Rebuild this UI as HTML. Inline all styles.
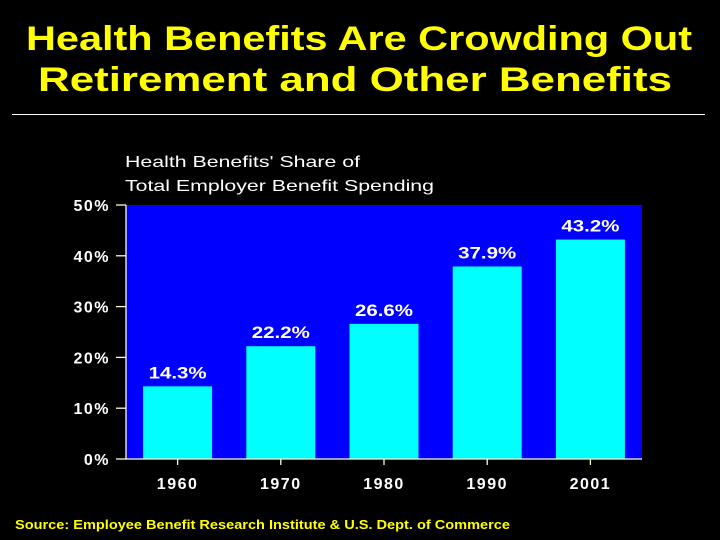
<!DOCTYPE html>
<html><head><meta charset="utf-8"><style>
html,body{margin:0;padding:0;background:#000;}
svg{display:block;font-family:"Liberation Sans",Arial,sans-serif;}
</style></head><body>
<svg id="chart" width="720" height="540" viewBox="0 0 720 540">
<rect width="720" height="540" fill="#000"/>
<text x="359" y="50" fill="#ffff00" font-size="34" font-weight="bold" text-anchor="middle" textLength="666" lengthAdjust="spacingAndGlyphs">Health Benefits Are Crowding Out</text>
<text x="355" y="91" fill="#ffff00" font-size="34" font-weight="bold" text-anchor="middle" textLength="634" lengthAdjust="spacingAndGlyphs">Retirement and Other Benefits</text>
<line x1="12" y1="114.5" x2="705" y2="114.5" stroke="#fff" stroke-width="1"/>
<text x="125" y="167" fill="#fff" font-size="16" textLength="235" lengthAdjust="spacingAndGlyphs">Health Benefits' Share of</text>
<text x="125" y="191" fill="#fff" font-size="16" textLength="309" lengthAdjust="spacingAndGlyphs">Total Employer Benefit Spending</text>
<rect x="126" y="205" width="516" height="254" fill="#0000ff"/>
<g id="bars"></g>
<g id="axes"></g>
<text x="15" y="529" fill="#ffff00" font-size="12.5" font-weight="bold" textLength="495" lengthAdjust="spacingAndGlyphs">Source: Employee Benefit Research Institute &amp; U.S. Dept. of Commerce</text>
</svg>
<script>
const categories = ["1960","1970","1980","1990","2001"];
const values = [14.3, 22.2, 26.6, 37.9, 43.2];
const valueLabels = ["14.3%","22.2%","26.6%","37.9%","43.2%"];
const yTicks = [0,10,20,30,40,50];
const yTickLabels = ["0%","10%","20%","30%","40%","50%"];

const NS="http://www.w3.org/2000/svg";
const plotL=126, plotR=642, plotT=205, plotB=459;
function y(v){return plotB-(v/50)*(plotB-plotT);}
const band=(plotR-plotL)/categories.length;
function xc(i){return plotL+band*(i+0.5);}
const barW=69;
function mk(tag,attrs,parent){const e=document.createElementNS(NS,tag);for(const k in attrs)e.setAttribute(k,attrs[k]);parent.appendChild(e);return e;}
const bars=document.getElementById("bars"), axes=document.getElementById("axes");
values.forEach((v,i)=>{
  const r=mk("rect",{x:xc(i)-barW/2,y:y(v),width:barW,height:plotB-y(v),fill:"#00ffff"},bars);
  
  
  const t=mk("text",{x:xc(i),y:y(v)-8,fill:"#fff","font-size":"17","font-weight":"bold","text-anchor":"middle",textLength:"58",lengthAdjust:"spacingAndGlyphs"},bars);
  t.textContent=valueLabels[i];
  
  
  const tk=mk("line",{x1:xc(i),x2:xc(i),y1:plotB,y2:plotB+6,stroke:"#ffffcc","stroke-width":"1.3"},axes);
  
  
  const xl=mk("text",{x:xc(i),y:plotB+30,fill:"#fff","font-size":"16","font-weight":"bold","text-anchor":"middle","letter-spacing":"1.5"},axes);
  xl.textContent=categories[i];
  
  
});
const yl=mk("line",{x1:plotL,x2:plotL,y1:plotT,y2:plotB,stroke:"#ffffcc","stroke-width":"1.3"},axes);


const xl=mk("line",{x1:plotL,x2:plotR,y1:plotB,y2:plotB,stroke:"#ffffcc","stroke-width":"1.3"},axes);


yTicks.forEach((v,i)=>{
  const tk=mk("line",{x1:116,x2:plotL,y1:y(v),y2:y(v),stroke:"#ffffcc","stroke-width":"1.3"},axes);
  
  
  const t=mk("text",{x:110,y:y(v)+6,fill:"#fff","font-size":"16","font-weight":"bold","text-anchor":"end","letter-spacing":"1.5"},axes);
  t.textContent=yTickLabels[i];
  
  
});
</script>
</body></html>
